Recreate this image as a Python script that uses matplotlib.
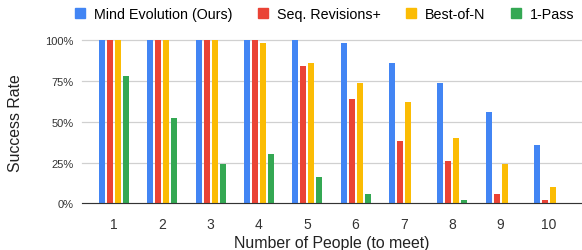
import matplotlib.pyplot as plt
import numpy as np
from matplotlib.patches import Patch

plt.rcParams['font.family'] = ['Liberation Sans', 'DejaVu Sans']

people = [1, 2, 3, 4, 5, 6, 7, 8, 9, 10]
mind_evo = [100, 100, 100, 100, 100, 98, 86, 74, 56, 36]
seq_rev = [100, 100, 100, 100, 84, 64, 38, 26, 6, 2]
best_of_n = [100, 100, 100, 98, 86, 74, 62, 40, 24, 10]
one_pass = [78, 52, 24, 30, 16, 6, 0, 2, 0, 0]

names = ['Mind Evolution (Ours)', 'Seq. Revisions+', 'Best-of-N', '1-Pass']
colors = ['#4285F4', '#EA4335', '#FBBC04', '#34A853']
series = [mind_evo, seq_rev, best_of_n, one_pass]

fig = plt.figure(figsize=(5.82, 2.51), dpi=100)
ax = fig.add_axes([0.141, 0.186, 0.857, 0.65])

x = np.arange(len(people))
step = 0.165
w = 0.124
for i, (vals, c) in enumerate(zip(series, colors)):
    ax.bar(x + (i - 1.5) * step, vals, width=w, color=c, zorder=3)

ax.set_xlim(-0.66, len(people) - 0.34)
ax.set_ylim(0, 100)
ax.set_yticks([0, 25, 50, 75, 100])
ax.set_yticklabels(['0%', '25%', '50%', '75%', '100%'], fontsize=8, color='#333333')
ax.set_xticks(x)
ax.set_xticklabels([str(p) for p in people], fontsize=10, color='#333333')
ax.tick_params(axis='y', length=0, pad=6)
ax.tick_params(axis='x', length=0, pad=10)
ax.grid(axis='y', color='#d0d0d0', linewidth=0.9, zorder=0)
for s in ['top', 'right', 'left']:
    ax.spines[s].set_visible(False)
ax.spines['bottom'].set_color('#333333')
ax.spines['bottom'].set_zorder(4)
for gl in ax.get_ygridlines():
    gl.set_clip_on(False)

ax.set_xlabel('Number of People (to meet)', fontsize=11.4, color='#222222', labelpad=3)
ax.set_ylabel('Success Rate', fontsize=11.4, color='#222222', labelpad=16)

handles = [Patch(color=c) for c in colors]
fig.legend(handles, names, loc='center', bbox_to_anchor=(0.558, 0.94), ncol=4,
           frameon=False, fontsize=10.3, handlelength=0.7, handleheight=0.7,
           handletextpad=0.6, columnspacing=1.8)

fig.savefig('out.png', dpi=100)
